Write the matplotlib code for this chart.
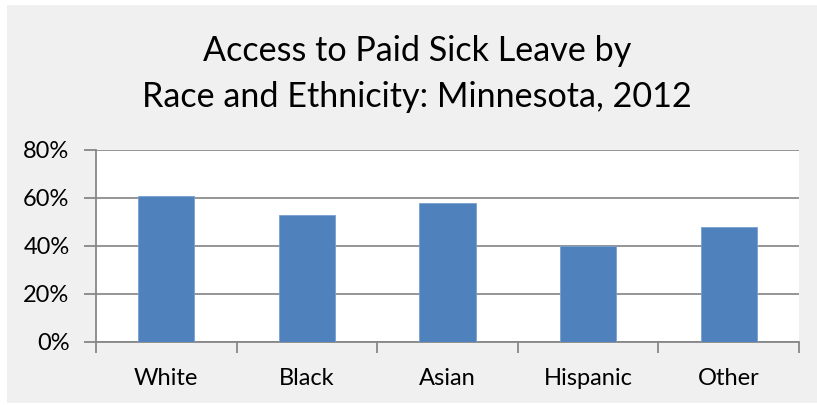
import matplotlib.pyplot as plt
from matplotlib.patches import Rectangle
from matplotlib.ticker import FixedLocator

# data
groups = ['White', 'Black', 'Asian', 'Hispanic', 'Other']
access_pct = [61, 53, 58, 40, 48]
y_ticks = [0, 20, 40, 60, 80]
title_lines = ['Access to Paid Sick Leave by', 'Race and Ethnicity: Minnesota, 2012']

plt.rcParams['font.family'] = ['Lato', 'DejaVu Sans']

W, H = 817, 405
fig = plt.figure(figsize=(W / 100, H / 100), dpi=100)
fig.patch.set_facecolor('white')

# grey chart area with a thin white margin on the left, top and bottom
fig.patches.append(Rectangle((7 / W, 2 / H), 810 / W, 398 / H, transform=fig.transFigure,
                             facecolor='#f0f0f0', edgecolor='none', zorder=-10))

ax = fig.add_axes([96 / W, (H - 342) / H, (799 - 96) / W, (342 - 150) / H])
ax.set_facecolor('white')

x = range(len(groups))
ax.bar(x, access_pct, width=0.4, color='#4f81bd', edgecolor='#7aa0d0', linewidth=0.6, zorder=3)

ax.set_xlim(-0.5, len(groups) - 0.5)
ax.set_ylim(0, 80)
ax.set_yticks(y_ticks)
ax.set_yticklabels([f'{v}%' for v in y_ticks])
ax.yaxis.grid(True, color='#8c8c8c', linewidth=1.3, zorder=1)

ax.set_xticks(list(x))
ax.set_xticklabels(groups)
ax.xaxis.set_minor_locator(FixedLocator([i - 0.5 for i in range(len(groups) + 1)]))
ax.tick_params(axis='x', which='major', length=0, pad=19, labelsize=17)
ax.tick_params(axis='x', which='minor', length=8, width=1.3, color='#878787', direction='out')
ax.tick_params(axis='y', length=9, width=1.3, color='#878787', pad=10, labelsize=17)

for side in ['top', 'right']:
    ax.spines[side].set_visible(False)
for side in ['left', 'bottom']:
    ax.spines[side].set_color('#878787')
    ax.spines[side].set_linewidth(1.3)

# title, two lines placed by their baselines (pixels from top)
for line, base in zip(title_lines, [61, 107]):
    fig.text(417 / W, 1 - base / H, line, ha='center', va='baseline', fontsize=24.6)

fig.savefig('out.png', dpi=100, facecolor=fig.get_facecolor())
